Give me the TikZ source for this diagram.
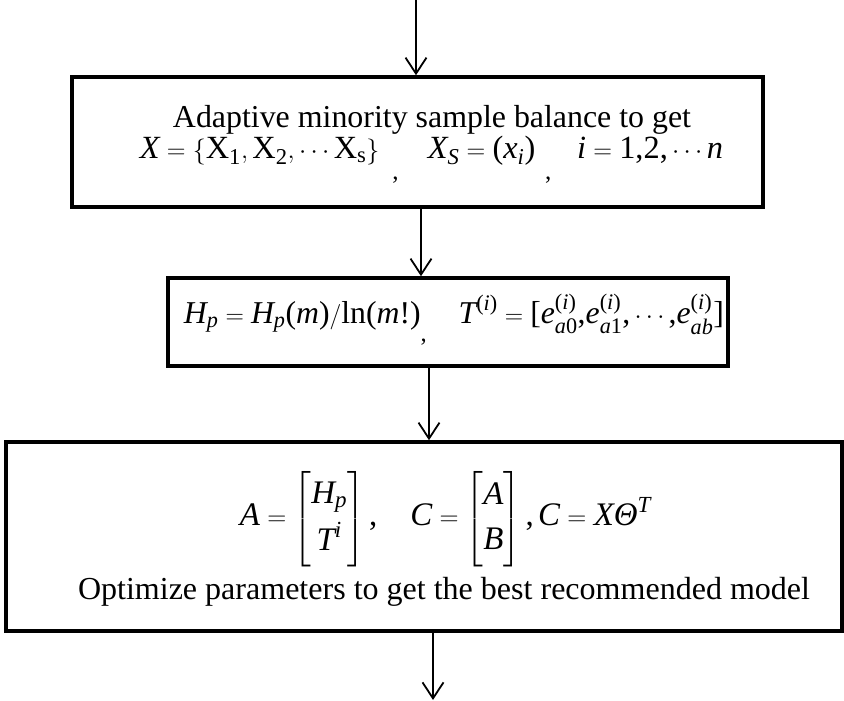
\documentclass[tikz,border=0pt]{standalone}
\usepackage{amsmath}
\usepackage{graphicx}
\usepackage{fontspec}
\setmainfont{Liberation Serif}
\usetikzlibrary{arrows.meta}
\newcommand\mi[1]{\text{\itshape #1}}
\newcommand\mr[1]{\text{\upshape #1}}
\newcommand\lowcomma[1]{\raisebox{#1}{\fontsize{24}{24}\selectfont ,}}
\begin{document}
\begin{tikzpicture}[x=1pt,y=-1pt,
  box/.style={draw=black, line width=3.5pt, rectangle, inner sep=0pt},
  arr/.style={line width=1.8pt, -{Straight Barb[length=16pt,width=21pt,line width=1.8pt]}},
  txt/.style={inner sep=0pt, font=\fontsize{31}{37}\selectfont}]
\useasboundingbox[fill=white] (0,0) rectangle (844,701);
\node[box, minimum width=691pt, minimum height=130pt] (b1) at (417.5,142) {};
\node[box, minimum width=560pt, minimum height=88pt] (b2) at (448,322) {};
\node[box, minimum width=836pt, minimum height=189pt] (b3) at (424,536.5) {};
\node[txt] (t1a) at (432,120) {\resizebox{518pt}{!}{Adaptive minority sample balance to get}};
\node[txt] (t1b) at (431.5,160) {\resizebox{583pt}{!}{$\mi{X}=\{\mr{X}_{\mr{1}},\mr{X}_{\mr{2}},\cdots\mr{X}_{\mr{s}}\}$\hspace{0.4em}\lowcomma{-20pt}\hspace{0.9em}$\mi{X}_{\mi{S}}=\mr{(}\mi{x}_{\mi{i}}\mr{)}$\hspace{0.3em}\lowcomma{-20pt}\hspace{0.8em}$\mi{i}=\mr{1,2,}\cdots\mi{n}$}};
\node[txt] (t2) at (454,320) {\resizebox{540pt}{!}{$\mi{H}_{\mi{p}}=\mi{H}_{\mi{p}}\mr{(}\mi{m}\mr{)}/\mr{ln(}\mi{m}\mr{!)}$\lowcomma{-18pt}\quad$\mi{T}^{\mr{(}\mi{i}\mr{)}}=\mr{[}\mi{e}_{\mi{a}\mr{0}}^{\mr{(}\mi{i}\mr{)}}\mr{,}\mi{e}_{\mi{a}\mr{1}}^{\mr{(}\mi{i}\mr{)}}\mr{,}\cdots\mr{,}\mi{e}_{\mi{ab}}^{\mr{(}\mi{i}\mr{)}}\mr{]}$}};
\node[txt] (t3a) at (445.5,519) {\resizebox{411pt}{!}{$\mi{A}=\begin{bmatrix}\mi{H}_{\mi{p}}\\[6pt]\mi{T}^{\mi{i}}\end{bmatrix}\mr{,}\quad \mi{C}=\begin{bmatrix}\mi{A}\\[6pt]\mi{B}\end{bmatrix}\mr{,}\,\mi{C}=\mi{X}\mi{Θ}^{\mi{T}}$}};
\node[txt] (t3b) at (444,592) {\resizebox{732pt}{!}{Optimize parameters to get the best recommended model}};
\coordinate (s) at (416,0);
\coordinate (e) at (433,700);
\draw[arr] (s) -- (s |- b1.north);
\draw[arr] ([xshift=3.5pt]b1.south) -- ([xshift=3.5pt]b1.south |- b2.north);
\draw[arr] ([xshift=-19pt]b2.south) -- ([xshift=-19pt]b2.south |- b3.north);
\draw[arr] (b3.south -| e) -- (e);
\end{tikzpicture}
\end{document}
